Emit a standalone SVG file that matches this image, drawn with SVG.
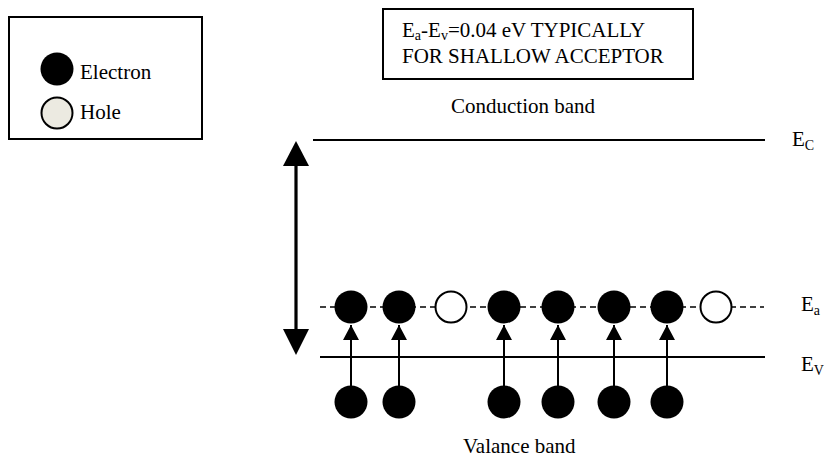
<svg xmlns="http://www.w3.org/2000/svg" width="824" height="459" viewBox="0 0 824 459">
  <style>
    text { font-family: "Liberation Serif", "Times New Roman", Times, serif; font-size: 21px; fill: #000; }
    .sub { font-size: 14px; }
    .frame { fill: #fff; stroke: #000; stroke-width: 2; }
    .band { stroke: #000; stroke-width: 2; fill: none; }
    .level { stroke: #000; stroke-width: 1.6; stroke-dasharray: 6 4; fill: none; }
    .e { fill: #000; }
    .h { fill: #fff; stroke: #000; stroke-width: 2; }
    .jump { stroke: #000; stroke-width: 2; fill: none; marker-end: url(#tip); }
    .gap { stroke: #000; stroke-width: 3.2; fill: none; }
  </style>
  <defs>
    <marker id="tip" markerUnits="userSpaceOnUse" markerWidth="17" markerHeight="16" refX="15" refY="8" orient="auto">
      <path d="M0,0 L15,8 L0,16 Z" fill="#000"/>
    </marker>
  </defs>

  <rect width="824" height="459" fill="#fff"/>

  <g font-family="Liberation Serif, Times New Roman, serif" font-size="21">
    <!-- legend -->
    <g id="legend">
      <rect class="frame" x="9" y="17" width="193" height="122"/>
      <circle class="e" cx="57" cy="69" r="16.5"/>
      <text font-family="Liberation Serif, serif" x="80" y="79">Electron</text>
      <circle cx="57" cy="113" r="15.5" fill="#ECEAE1" stroke="#000" stroke-width="2"/>
      <text font-family="Liberation Serif, serif" x="80" y="119">Hole</text>
    </g>

    <!-- note box -->
    <g id="note">
      <rect class="frame" x="383" y="9" width="310" height="70"/>
      <text font-family="Liberation Serif, serif" x="402" y="37">E<tspan class="sub" dy="3">a</tspan><tspan dy="-3">-E</tspan><tspan class="sub" dy="3">v</tspan><tspan dy="-3">=0.04 eV TYPICALLY</tspan></text>
      <text font-family="Liberation Serif, serif" x="402" y="63"><tspan>FOR SHALLOW ACCEPTOR</tspan></text>
    </g>

    <text id="conduction-label" font-family="Liberation Serif, serif" x="451" y="113"><tspan>Conduction band</tspan></text>
    <text id="valance-label" font-family="Liberation Serif, serif" x="463" y="453"><tspan>Valance band</tspan></text>

    <!-- band edges and acceptor level -->
    <g id="levels">
      <line class="band" x1="313" y1="140" x2="765" y2="140"/>
      <line class="level" x1="320" y1="307" x2="764" y2="307"/>
      <line class="band" x1="320" y1="357" x2="765" y2="357"/>
      <text font-family="Liberation Serif, serif" x="792" y="146">E<tspan class="sub" dy="4">C</tspan></text>
      <text font-family="Liberation Serif, serif" x="801" y="311">E<tspan class="sub" dy="4">a</tspan></text>
      <text font-family="Liberation Serif, serif" x="801" y="371">E<tspan class="sub" dy="4">V</tspan></text>
    </g>
  </g>

  <!-- band gap double arrow -->
  <g id="gap-arrow">
    <line class="gap" x1="296" y1="164" x2="296" y2="332"/>
    <polygon points="296,141 283,166 309,166" fill="#000"/>
    <polygon points="296,355 283,329 309,329" fill="#000"/>
  </g>

  <!-- acceptor sites -->
  <g id="acceptor-sites">
    <circle class="e" cx="351" cy="307" r="16.5"/>
    <circle class="e" cx="399" cy="307" r="16.5"/>
    <circle class="h" cx="451" cy="307" r="15.5"/>
    <circle class="e" cx="504" cy="307" r="16.5"/>
    <circle class="e" cx="558" cy="307" r="16.5"/>
    <circle class="e" cx="614" cy="307" r="16.5"/>
    <circle class="e" cx="667" cy="307" r="16.5"/>
    <circle class="h" cx="716" cy="307" r="15.5"/>
  </g>

  <!-- valence electrons -->
  <g id="valence-electrons">
    <circle class="e" cx="351" cy="402" r="16.5"/>
    <circle class="e" cx="399" cy="402" r="16.5"/>
    <circle class="e" cx="504" cy="402" r="16.5"/>
    <circle class="e" cx="558" cy="402" r="16.5"/>
    <circle class="e" cx="614" cy="402" r="16.5"/>
    <circle class="e" cx="667" cy="402" r="16.5"/>
  </g>

  <!-- excitation arrows -->
  <g id="connectors">
    <line class="jump" x1="351" y1="386" x2="351" y2="325"/>
    <line class="jump" x1="399" y1="386" x2="399" y2="325"/>
    <line class="jump" x1="504" y1="386" x2="504" y2="325"/>
    <line class="jump" x1="558" y1="386" x2="558" y2="325"/>
    <line class="jump" x1="614" y1="386" x2="614" y2="325"/>
    <line class="jump" x1="667" y1="386" x2="667" y2="325"/>
  </g>
</svg>
